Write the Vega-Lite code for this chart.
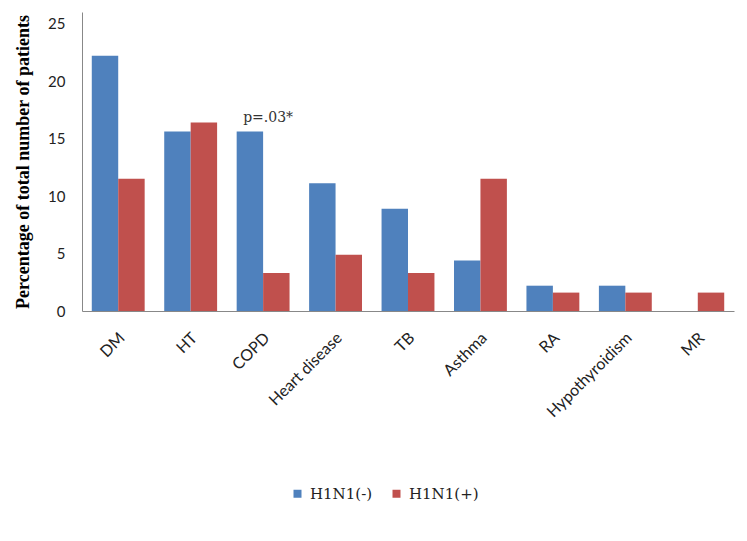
{
  "$schema": "https://vega.github.io/schema/vega-lite/v6.json",
  "width": 652,
  "height": 299,
  "autosize": {"type": "none"},
  "padding": {"left": 82, "top": 12, "right": 13, "bottom": 230},
  "background": "white",
  "config": {
    "view": {"stroke": null},
    "axis": {"labelFont": "Lato", "labelColor": "#222", "domainColor": "#888", "grid": false, "ticks": false}
  },
  "datasets": {
    "bars": [
      {"condition": "DM", "group": "H1N1(-)", "pct": 22.2},
      {"condition": "DM", "group": "H1N1(+)", "pct": 11.5},
      {"condition": "HT", "group": "H1N1(-)", "pct": 15.6},
      {"condition": "HT", "group": "H1N1(+)", "pct": 16.4},
      {"condition": "COPD", "group": "H1N1(-)", "pct": 15.6},
      {"condition": "COPD", "group": "H1N1(+)", "pct": 3.3},
      {"condition": "Heart disease", "group": "H1N1(-)", "pct": 11.1},
      {"condition": "Heart disease", "group": "H1N1(+)", "pct": 4.9},
      {"condition": "TB", "group": "H1N1(-)", "pct": 8.9},
      {"condition": "TB", "group": "H1N1(+)", "pct": 3.3},
      {"condition": "Asthma", "group": "H1N1(-)", "pct": 4.4},
      {"condition": "Asthma", "group": "H1N1(+)", "pct": 11.5},
      {"condition": "RA", "group": "H1N1(-)", "pct": 2.2},
      {"condition": "RA", "group": "H1N1(+)", "pct": 1.6},
      {"condition": "Hypothyroidism", "group": "H1N1(-)", "pct": 2.2},
      {"condition": "Hypothyroidism", "group": "H1N1(+)", "pct": 1.6},
      {"condition": "MR", "group": "H1N1(-)", "pct": 0},
      {"condition": "MR", "group": "H1N1(+)", "pct": 1.6}
    ],
    "notes": [
      {"condition": "COPD", "pct": 15.6, "label": "p=.03*"}
    ]
  },
  "layer": [
    {
      "data": {"name": "bars"},
      "mark": {"type": "bar"},
      "encoding": {
        "x": {
          "field": "condition", "type": "nominal", "sort": null,
          "scale": {"paddingInner": 0.27, "paddingOuter": 0.135},
          "axis": {"title": null, "labelAngle": -45, "labelFontSize": 16, "labelPadding": 24, "labelOffset": 4, "labelAlign": "right", "labelBaseline": "middle"}
        },
        "xOffset": {"field": "group", "type": "nominal", "sort": ["H1N1(-)", "H1N1(+)"], "scale": {"paddingInner": 0, "paddingOuter": 0}},
        "y": {
          "field": "pct", "type": "quantitative",
          "scale": {"domain": [0, 25]},
          "axis": {
            "values": [0, 5, 10, 15, 20, 25], "labelFontSize": 15, "labelPadding": 17,
            "title": "Percentage of total number  of patients",
            "titleFont": "Liberation Serif", "titleFontSize": 18, "titleFontWeight": "bold", "titleColor": "#000", "titlePadding": 15
          }
        },
        "color": {
          "field": "group", "type": "nominal",
          "scale": {"domain": ["H1N1(-)", "H1N1(+)"], "range": ["#4F81BD", "#C0504D"]},
          "legend": {
            "title": null, "orient": "none", "direction": "horizontal",
            "legendX": 208, "legendY": 474,
            "symbolType": "square", "symbolSize": 64, "symbolStrokeWidth": 0,
            "labelFont": "DejaVu Serif", "labelFontSize": 15, "labelColor": "#222",
            "columnPadding": 16, "labelOffset": 5
          }
        }
      }
    },
    {
      "data": {"name": "notes"},
      "mark": {"type": "text", "font": "DejaVu Serif", "fontSize": 14, "color": "#333", "baseline": "alphabetic", "dy": -10, "dx": 5},
      "encoding": {
        "x": {"field": "condition", "type": "nominal", "sort": null},
        "y": {"field": "pct", "type": "quantitative"},
        "text": {"field": "label"}
      }
    }
  ]
}
